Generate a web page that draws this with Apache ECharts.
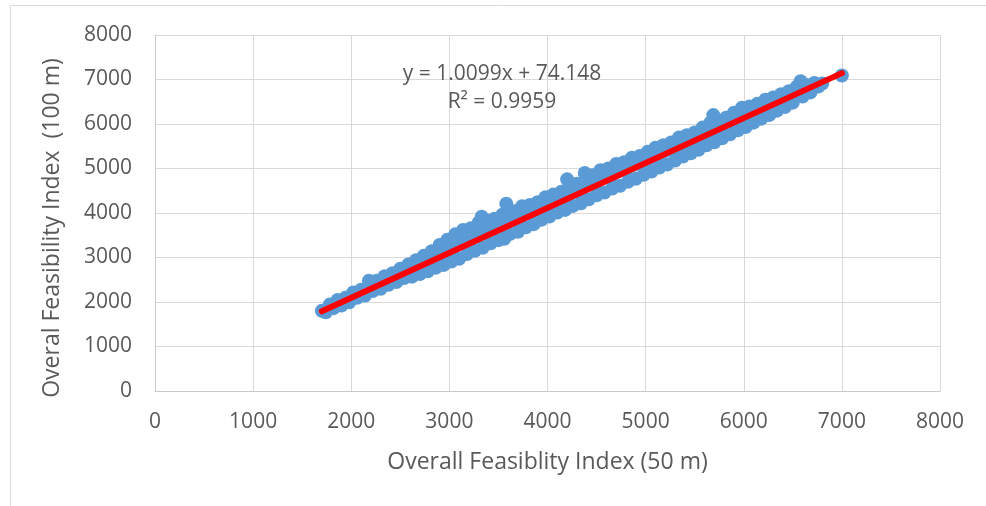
<!DOCTYPE html>
<html>
<head>
<meta charset="utf-8">
<script src="https://cdn.jsdelivr.net/npm/echarts@6/dist/echarts.min.js"></script>
<style>
html,body{margin:0;padding:0;background:#fff;}
#chart{width:986px;height:506px;}
</style>
</head>
<body>
<div id="chart"></div>
<script>
// Overall Feasibility Index (50 m) values (x) and (100 m) values (y)
const xValues = [
1700,1740,1780,1820,1860,1900,1940,1980,2020,2060,2100,2140,2180,2200,2220,2260,2300,2340,2380,2420,
2460,2500,2540,2580,2620,2660,2700,2740,2780,2820,2860,2900,2940,2980,3020,3060,3100,3140,3180,3220,
3260,3300,3330,3340,3380,3420,3460,3500,3540,3560,3580,3620,3660,3700,3740,3780,3820,3860,3900,3940,
3980,4020,4060,4100,4140,4180,4200,4220,4260,4300,4340,4380,4420,4460,4500,4540,4580,4620,4660,4700,
4740,4780,4820,4860,4900,4940,4980,5020,5060,5100,5140,5180,5220,5260,5300,5340,5380,5420,5460,5500,
5540,5580,5620,5660,5690,5700,5740,5780,5820,5860,5900,5940,5980,6020,6060,6100,6140,6180,6220,6260,
6300,6340,6380,6420,6460,6500,6540,6580,6600,6640,6680,6720,6760,6800,7000,
1800,1880,1960,2040,2120,2240,2320,2400,2480,2560,2640,2720,2800,2880,2960,3040,3120,3200,3280,3360,
3440,3520,3600,3680,3760,3840,3920,4000,4080,4160,4240,4320,4400,4480,4560,4640,4720,4800,4880,4960,
5040,5120,5200,5280,5360,5440,5520,5600,5680,5760,5840,5920,6000,6080,6160,6240,6320,6400,6480,6560,
6640,6720
];
const yValues = [
1801,1771,1942,1862,2043,1923,2093,1994,2214,2095,2275,2145,2476,2406,2246,2477,2297,2577,2388,2648,
2449,2749,2539,2840,2570,2940,2630,3041,2690,3142,2770,3280,2830,3400,2910,3520,2970,3620,3080,3660,
3150,3790,3917,3220,3830,3320,3870,3390,3960,3420,4210,3530,4040,3580,4150,3680,4182,3750,4243,3850,
4354,3920,4414,4010,4475,4070,4756,4566,4160,4657,4220,4898,4310,4848,4400,4959,4460,5000,4550,5101,
4610,5141,4700,5242,4770,5283,4860,5374,4930,5465,5020,5525,5090,5586,5180,5697,5270,5748,5340,5809,
5420,5919,5520,6030,6200,5590,6071,5680,6142,5770,6252,5860,6363,5930,6394,6030,6455,6120,6546,6200,
6596,6300,6667,6380,6738,6480,6838,6959,6619,6879,6710,6920,6840,6911,7090,
1912,1963,2084,2134,2255,2356,2467,2508,2639,2689,2810,2841,2992,3023,3173,3194,3345,3366,3517,3537,
3658,3689,3810,3840,3991,4022,4133,4154,4304,4335,4446,4487,4638,4658,4779,4800,4931,4952,5082,5103,
5224,5255,5396,5406,5547,5558,5699,5730,5870,5881,6012,6053,6194,6224,6335,6376,6487,6528,6648,6699,
6799,6850
];
// Linear trendline ends (y = 1.0099x + 74.148)
const trendX = [1700, 7000];
const trendY = [1791, 7143];
// Axis ticks
const xTicks = [0, 1000, 2000, 3000, 4000, 5000, 6000, 7000, 8000];
const yTicks = [0, 1000, 2000, 3000, 4000, 5000, 6000, 7000, 8000];
const equationText = 'y = 1.0099x + 74.148';
const r2Text = 'R² = 0.9959';
const xTitle = 'Overall Feasiblity Index (50 m)';
const yTitle = 'Overal Feasibility Index  (100 m)';

const points = xValues.map((x, i) => [x, yValues[i]]);
const trend = trendX.map((x, i) => [x, trendY[i]]);
const FONT = 'Open Sans';
const TXT = '#595959';

const chart = echarts.init(document.getElementById('chart'), null, {renderer: 'canvas'});
chart.setOption({
  animation: false,
  backgroundColor: '#ffffff',
  grid: {left: 155, right: 46, top: 35, bottom: 115, containLabel: false},
  xAxis: {
    type: 'value', min: xTicks[0], max: xTicks[xTicks.length - 1], interval: xTicks[1] - xTicks[0],
    name: xTitle, nameLocation: 'middle', nameGap: 60,
    nameTextStyle: {fontFamily: FONT, fontSize: 23, color: TXT},
    axisLine: {show: true, lineStyle: {color: '#c9c9c9', width: 1}},
    axisTick: {show: false},
    axisLabel: {fontFamily: FONT, fontSize: 21, color: TXT, margin: 21, formatter: v => String(v)},
    splitLine: {show: true, lineStyle: {color: '#d9d9d9', width: 1}}
  },
  yAxis: {
    type: 'value', min: yTicks[0], max: yTicks[yTicks.length - 1], interval: yTicks[1] - yTicks[0],
    axisLine: {show: true, lineStyle: {color: '#c9c9c9', width: 1}},
    axisTick: {show: false},
    axisLabel: {fontFamily: FONT, fontSize: 21, color: TXT, margin: 23, formatter: v => String(v)},
    splitLine: {show: true, lineStyle: {color: '#d9d9d9', width: 1}}
  },
  graphic: [
    {type: 'rect', silent: true, z: -10, shape: {x: 10.5, y: 5.5, width: 1100, height: 700},
     style: {fill: 'none', stroke: '#d9d9d9', lineWidth: 1}},
    {type: 'text', x: 502, y: 74, z: 100,
     style: {text: equationText, fontFamily: FONT, fontSize: 21, fill: TXT, textAlign: 'center', textVerticalAlign: 'middle'}},
    {type: 'text', x: 502, y: 102, z: 100,
     style: {text: r2Text, fontFamily: FONT, fontSize: 21, fill: TXT, textAlign: 'center', textVerticalAlign: 'middle'}},
    {type: 'text', x: 52, y: 228, rotation: Math.PI / 2, z: 100,
     style: {text: yTitle, fontFamily: FONT, fontSize: 23, fill: TXT, textAlign: 'center', textVerticalAlign: 'middle'}}
  ],
  series: [
    {type: 'scatter', data: points, symbol: 'circle', symbolSize: 14,
     itemStyle: {color: '#5b9bd5', opacity: 1}, z: 2},
    {type: 'line', data: trend, showSymbol: false, symbol: 'none',
     lineStyle: {color: '#ff0000', width: 6, cap: 'round'}, z: 3}
  ]
});
</script>
</body>
</html>
